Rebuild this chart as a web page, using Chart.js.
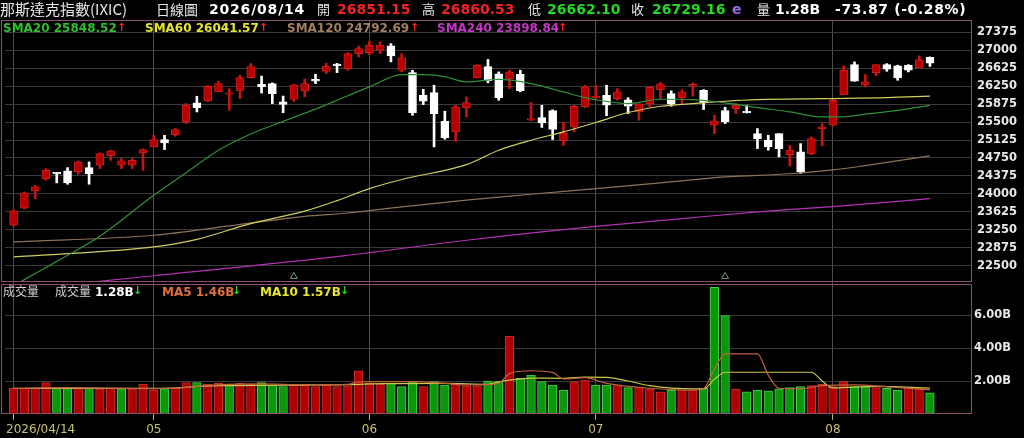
<!DOCTYPE html>
<html><head><meta charset="utf-8">
<script src="https://cdn.jsdelivr.net/npm/chart.js@4.4.1/dist/chart.umd.min.js"></script>
<style>
html,body{margin:0;padding:0;background:#000;}
#wrap{position:relative;width:1024px;height:438px;overflow:hidden;background:#000;}
#c{position:absolute;left:0;top:0;}
.t{position:absolute;white-space:nowrap;line-height:1;}
.cjk{font-family:"Noto Sans CJK TC","Noto Sans CJK SC",sans-serif;color:#e6e6e6;}
.n{font-family:"DejaVu Sans",sans-serif;font-weight:bold;}
.h{font-size:14px;top:1.5px;}
.lg{font-size:12px;top:22px;}
.ar{font-family:"DejaVu Sans",sans-serif;font-weight:bold;font-size:11px;}
</style></head><body>
<div id="wrap">
<canvas id="c" width="1024" height="438"></canvas>

<span class="t cjk" style="left:0;top:1px;font-size:15px;">那斯達克指數(IXIC)</span>
<span class="t cjk" style="left:156px;top:2px;font-size:14px;">日線圖</span>
<span class="t n h" style="left:209px;color:#ffffff;letter-spacing:0.8px;">2026/08/14</span>
<span class="t cjk" style="left:317px;top:2px;font-size:13px;">開</span>
<span class="t n h" style="left:337px;color:#f02424;">26851.15</span>
<span class="t cjk" style="left:422px;top:2px;font-size:13px;">高</span>
<span class="t n h" style="left:441px;color:#f02424;">26860.53</span>
<span class="t cjk" style="left:528px;top:2px;font-size:13px;">低</span>
<span class="t n h" style="left:547px;color:#22d822;">26662.10</span>
<span class="t cjk" style="left:631px;top:2px;font-size:13px;">收</span>
<span class="t n h" style="left:652px;color:#22d822;">26729.16</span>
<span class="t n h" style="left:732px;color:#9a6ae0;">e</span>
<span class="t cjk" style="left:757px;top:2px;font-size:13px;">量</span>
<span class="t n h" style="left:775px;color:#ffffff;">1.28B</span>
<span class="t n h" style="left:835px;color:#ffffff;letter-spacing:0.6px;">-73.87 (-0.28%)</span>

<span class="t n lg" style="left:3px;color:#2fbf2f;">SMA20 25848.52</span>
<span class="t ar" style="left:117px;top:22px;color:#ff2020;">↑</span>
<span class="t n lg" style="left:145px;color:#e6e62a;">SMA60 26041.57</span>
<span class="t ar" style="left:259px;top:22px;color:#ff2020;">↑</span>
<span class="t n lg" style="left:287px;color:#a08060;">SMA120 24792.69</span>
<span class="t ar" style="left:410px;top:22px;color:#ff2020;">↑</span>
<span class="t n lg" style="left:437px;color:#c436c4;">SMA240 23898.84</span>
<span class="t ar" style="left:558px;top:22px;color:#ff2020;">↑</span>

<span class="t cjk" style="left:3px;top:285px;font-size:12px;color:#d0d0d0;">成交量</span>
<span class="t cjk" style="left:55px;top:285px;font-size:12px;color:#d0d0d0;">成交量</span>
<span class="t n" style="left:95px;top:285.5px;font-size:12px;color:#ffffff;">1.28B</span>
<span class="t ar" style="left:133px;top:285px;color:#22d822;">↓</span>
<span class="t n" style="left:162px;top:285.5px;font-size:12px;color:#e0703a;">MA5 1.46B</span>
<span class="t ar" style="left:232px;top:285px;color:#22d822;">↓</span>
<span class="t n" style="left:260px;top:285.5px;font-size:12px;color:#e6e62a;">MA10 1.57B</span>
<span class="t ar" style="left:340px;top:285px;color:#22d822;">↓</span>
</div>
<script>
// ---- data ----
const openP  = [23344,23700,24062,24319,24431,24479,24458,24549,24598,24800,24598,24598,24855,24981,25134,25238,25503,25900,25942,26130,26081,26150,26425,26290,26304,25921,25973,26147,26390,26558,26711,26617,26930,26951,27000,27091,26582,26534,26060,26116,25517,25294,25796,26422,26659,26506,26397,26499,25538,25594,25740,25113,25400,25816,26011,26060,25990,25962,25712,25880,26170,26095,26011,26248,26164,25433,25740,25781,25712,25259,25120,25259,24821,24876,24842,25364,25433,26074,26700,26269,26533,26700,26673,26687,26631,26851.15];
const highP  = [23665,24040,24180,24528,24440,24549,24688,24667,24855,24911,24737,24737,24940,25224,25224,25364,25886,26039,26262,26359,26199,26478,26722,26460,26320,26043,26290,26400,26500,26728,26726,26951,27090,27188,27174,27139,26930,26582,26185,26269,25726,25851,26025,26700,26808,26548,26582,26582,25910,25851,25755,25490,25851,26269,26260,26269,26199,26010,25880,26234,26330,26151,26178,26318,26178,25642,25810,25886,25851,25364,25224,25259,25016,25050,25190,25468,25990,26673,26756,26492,26700,26721,26687,26700,26882,26860.53];
const lowP   = [23330,23690,23901,24284,24229,24201,24410,24201,24528,24702,24528,24528,24493,24981,24925,25204,25468,25712,25928,26130,25747,25990,26420,26105,25886,25695,25930,26030,26304,26513,26530,26582,26861,26910,26930,26756,26547,25642,25865,24981,25141,25099,25607,26422,26320,25956,26199,26130,25530,25388,25134,25015,25294,25802,25990,25632,25960,25677,25538,25816,25990,25830,25886,26039,25761,25259,25468,25677,25691,24946,24911,24772,24584,24424,24821,25002,25419,26074,26352,26234,26464,26561,26373,26548,26631,26662.10];
const closeP = [23644,24020,24145,24493,24417,24229,24667,24424,24841,24897,24688,24702,24925,25134,25064,25343,25851,25802,26248,26304,26109,26429,26660,26234,26095,25870,26276,26304,26355,26670,26680,26930,27035,27104,27110,26882,26840,25698,25935,25677,25169,25816,25907,26687,26366,26008,26547,26157,25572,25482,25346,25266,25830,26234,26039,25851,26130,25830,25879,26227,26297,25872,26130,26290,25900,25524,25503,25851,25691,25155,24981,24946,24911,24458,25155,25399,25955,26582,26352,26340,26700,26603,26422,26582,26803,26729.16];
const volumeB = [1.56,1.56,1.56,1.90,1.56,1.58,1.56,1.56,1.53,1.56,1.53,1.53,1.82,1.45,1.53,1.56,1.90,1.90,1.80,1.86,1.82,1.86,1.82,1.90,1.76,1.66,1.76,1.76,1.66,1.80,1.66,1.70,2.61,1.86,1.82,1.86,1.66,1.96,1.66,1.96,1.76,1.82,1.70,1.70,2.00,1.96,4.73,2.16,2.36,1.96,1.76,1.45,1.96,2.06,1.76,1.76,1.72,1.60,1.60,1.52,1.35,1.45,1.45,1.45,1.56,7.68,5.96,1.51,1.35,1.45,1.40,1.52,1.60,1.66,1.72,1.80,1.66,1.96,1.66,1.66,1.60,1.56,1.45,1.56,1.56,1.28];

const sma20Idx = [0,1,4,8,13,16,19,22,25,28,31,33,36,38,40,42,45,48,51,53,55,57,60,63,66,69,72,75,77,79,82,85];
const sma20Val = [22080,22209,22590,23117,23971,24441,24911,25250,25515,25770,26050,26234,26492,26490,26450,26339,26390,26304,26130,26011,25930,25886,25976,25970,25900,25802,25712,25607,25610,25665,25745,25848.52];
const sma60Idx = [0,5,13,17,22,27,30,33,36,42,45,48,51,54,57,60,63,66,69,75,81,85];
const sma60Val = [22683,22750,22892,23050,23379,23640,23860,24110,24300,24610,24911,25120,25294,25490,25700,25830,25885,25935,25968,25990,26010,26041.57];
const sma120Idx = [0,13,20,27,31,36,42,48,54,60,66,72,76,79,85];
const sma120Val = [22996,23135,23330,23530,23600,23730,23870,23992,24110,24229,24354,24420,24500,24590,24792.69];
const sma240Idx = [0,13,30,42,54,62,69,76,85];
const sma240Val = [21990,22290,22690,23031,23320,23484,23623,23735,23898.84];

const volMa5Idx = [0,5,13,15,19,23,27,31,32,34,37,40,42,44,45,46,48,50,51,53,55,59,63,64,65,66,69,70,71,73,75,78,81,83,85];
const volMa5Val = [1.55,1.60,1.53,1.56,1.76,1.82,1.78,1.80,1.95,1.96,1.96,1.86,1.76,1.78,1.85,2.45,2.62,2.52,2.12,2.20,1.86,1.56,1.45,1.55,2.70,3.64,3.64,2.36,1.56,1.52,1.72,1.76,1.65,1.55,1.46];
const volMa10Idx = [0,13,19,31,34,40,44,45,46,48,51,53,55,57,59,63,64,65,66,74,75,76,80,85];
const volMa10Val = [1.55,1.55,1.72,1.78,1.84,1.86,1.80,1.95,2.05,2.18,2.16,2.24,2.22,2.00,1.72,1.52,1.52,2.10,2.53,2.53,2.00,1.58,1.68,1.57];

const markerIdx = [26, 66];
const markerLevel = 22275;

const monthTickIdx = [0, 13, 33, 54, 76];
const monthTickLabels = ['2026/04/14', '05', '06', '07', '08'];
const priceTicks = [22500,22875,23250,23625,24000,24375,24750,25125,25500,25875,26250,26625,27000,27375];
const volumeTicks = [2, 4, 6];

// ---- build ----
const UP = '#b40000', UPB = '#d01c1c', DN = '#ffffff';
const isUp = closeP.map((c,i) => c >= openP[i]);
const bodyData = closeP.map((c,i) => ({x:i, y:[openP[i], c]}));
const wickData = closeP.map((c,i) => ({x:i, y:[lowP[i], highP[i]]}));
const volUp = closeP.map((c,i) => i === 0 ? true : c >= closeP[i-1]);
const volData = volumeB.map((v,i) => ({x:i, y:v}));
const pts = (idx, val) => idx.map((k,j) => ({x:k, y:val[j]}));

const lineDs = (label, data, color, axis) => ({
  type:'line', label, data, borderColor:color, borderWidth:1.2, pointRadius:0,
  tension:0.35, cubicInterpolationMode:'monotone', yAxisID:axis, order:0, fill:false
});

const framePlugin = {
  id:'frame',
  afterDraw(chart){
    const {ctx} = chart;
    const {x, y, yv} = chart.scales;
    ctx.save();
    ctx.strokeStyle = '#8a4f72';
    ctx.lineWidth = 1;
    const L = 1.5, R = Math.round(x.right) - 0.5;
    ctx.strokeRect(L, Math.round(y.top) - 0.5, R - L, Math.round(y.bottom) - y.top);
    ctx.strokeRect(L, Math.round(yv.top) + 2.5, R - L, Math.round(yv.bottom) - yv.top - 3);
    // x labels
    ctx.font = '12px "DejaVu Sans"';
    ctx.fillStyle = '#c8c070';
    ctx.textBaseline = 'middle';
    ctx.textAlign = 'center';
    monthTickIdx.forEach((v,k) => {
      const px = x.getPixelForValue(v);
      const txt = monthTickLabels[k];
      const w = ctx.measureText(txt).width;
      ctx.fillText(txt, Math.max(px, 6 + w/2), 430);
    });
    ctx.restore();
  }
};

new Chart(document.getElementById('c'), {
  data: {
    datasets: [
      lineDs('SMA20', pts(sma20Idx, sma20Val), '#2f8f3a', 'y'),
      lineDs('SMA60', pts(sma60Idx, sma60Val), '#cfcf60', 'y'),
      lineDs('SMA120', pts(sma120Idx, sma120Val), '#8c7258', 'y'),
      lineDs('SMA240', pts(sma240Idx, sma240Val), '#b432b4', 'y'),
      {
        type:'line', label:'marker', data: markerIdx.map(k => ({x:k, y:markerLevel})),
        showLine:false, pointStyle:'triangle', pointRadius:4, pointBorderWidth:1,
        pointBackgroundColor:'rgba(0,0,0,0)', pointBorderColor:'#6f9a78', yAxisID:'y', order:0
      },
      {
        type:'bar', label:'body', data: bodyData, yAxisID:'y', grouped:false, order:1,
        barThickness:8, maxBarThickness:8, minBarLength:1.5, borderSkipped:false,
        backgroundColor: isUp.map(u => u ? UP : DN),
        borderColor: isUp.map(u => u ? UPB : DN), borderWidth:1
      },
      {
        type:'bar', label:'wick', data: wickData, yAxisID:'y', grouped:false, order:2,
        barThickness:2, maxBarThickness:2, borderSkipped:false, borderWidth:0,
        backgroundColor: isUp.map(u => u ? '#c41414' : DN)
      },
      lineDs('MA5', pts(volMa5Idx, volMa5Val), '#c0623e', 'yv'),
      lineDs('MA10', pts(volMa10Idx, volMa10Val), '#c8c84a', 'yv'),
      {
        type:'bar', label:'volume', data: volData, yAxisID:'yv', grouped:false, order:1,
        barThickness:8.6, maxBarThickness:8.6, borderSkipped:false, borderWidth:1,
        backgroundColor: volUp.map(u => u ? '#b00000' : '#0b960b'),
        borderColor: volUp.map(u => u ? '#c83232' : '#4ad04a')
      }
    ]
  },
  options: {
    responsive:false, animation:false, events:[],
    layout:{padding:{left:3, top:21, right:0, bottom:0}},
    plugins:{legend:{display:false}, tooltip:{enabled:false}},
    scales:{
      x:{
        type:'linear', min:-0.8, max:88.9, position:'bottom', offset:false, bounds:'data',
        afterBuildTicks: s => { s.ticks = monthTickIdx.map(v => ({value:v})); },
        afterFit: s => { s.height = 24; },
        ticks:{display:false, autoSkip:false},
        grid:{offset:false, color:'#4e4e4e', drawTicks:true, tickLength:6, tickColor:'#b8b070', lineWidth:1},
        border:{display:false}
      },
      y:{
        type:'linear', position:'right', stack:'main', stackWeight:261,
        min:22159, max:27611,
        afterBuildTicks: s => { s.ticks = priceTicks.map(v => ({value:v})); },
        afterFit: s => { s.width = 52; },
        ticks:{autoSkip:false, color:'#e8e8e8', padding:5, font:{family:'DejaVu Sans', size:11.5, weight:'bold'}, callback: v => String(v)},
        grid:{color:'#3a3a3a', drawTicks:false},
        border:{display:false}
      },
      yv:{
        type:'linear', position:'right', stack:'main', stackWeight:132,
        min:0, max:8,
        afterBuildTicks: s => { s.ticks = volumeTicks.map(v => ({value:v})); },
        afterFit: s => { s.width = 52; },
        ticks:{autoSkip:false, color:'#e8e8e8', padding:2, font:{family:'DejaVu Sans', size:11.5, weight:'bold'}, callback: v => v.toFixed(2) + 'B'},
        grid:{color:'#3a3a3a', drawTicks:false},
        border:{display:false}
      }
    }
  },
  plugins:[framePlugin]
});
</script>
</body></html>
